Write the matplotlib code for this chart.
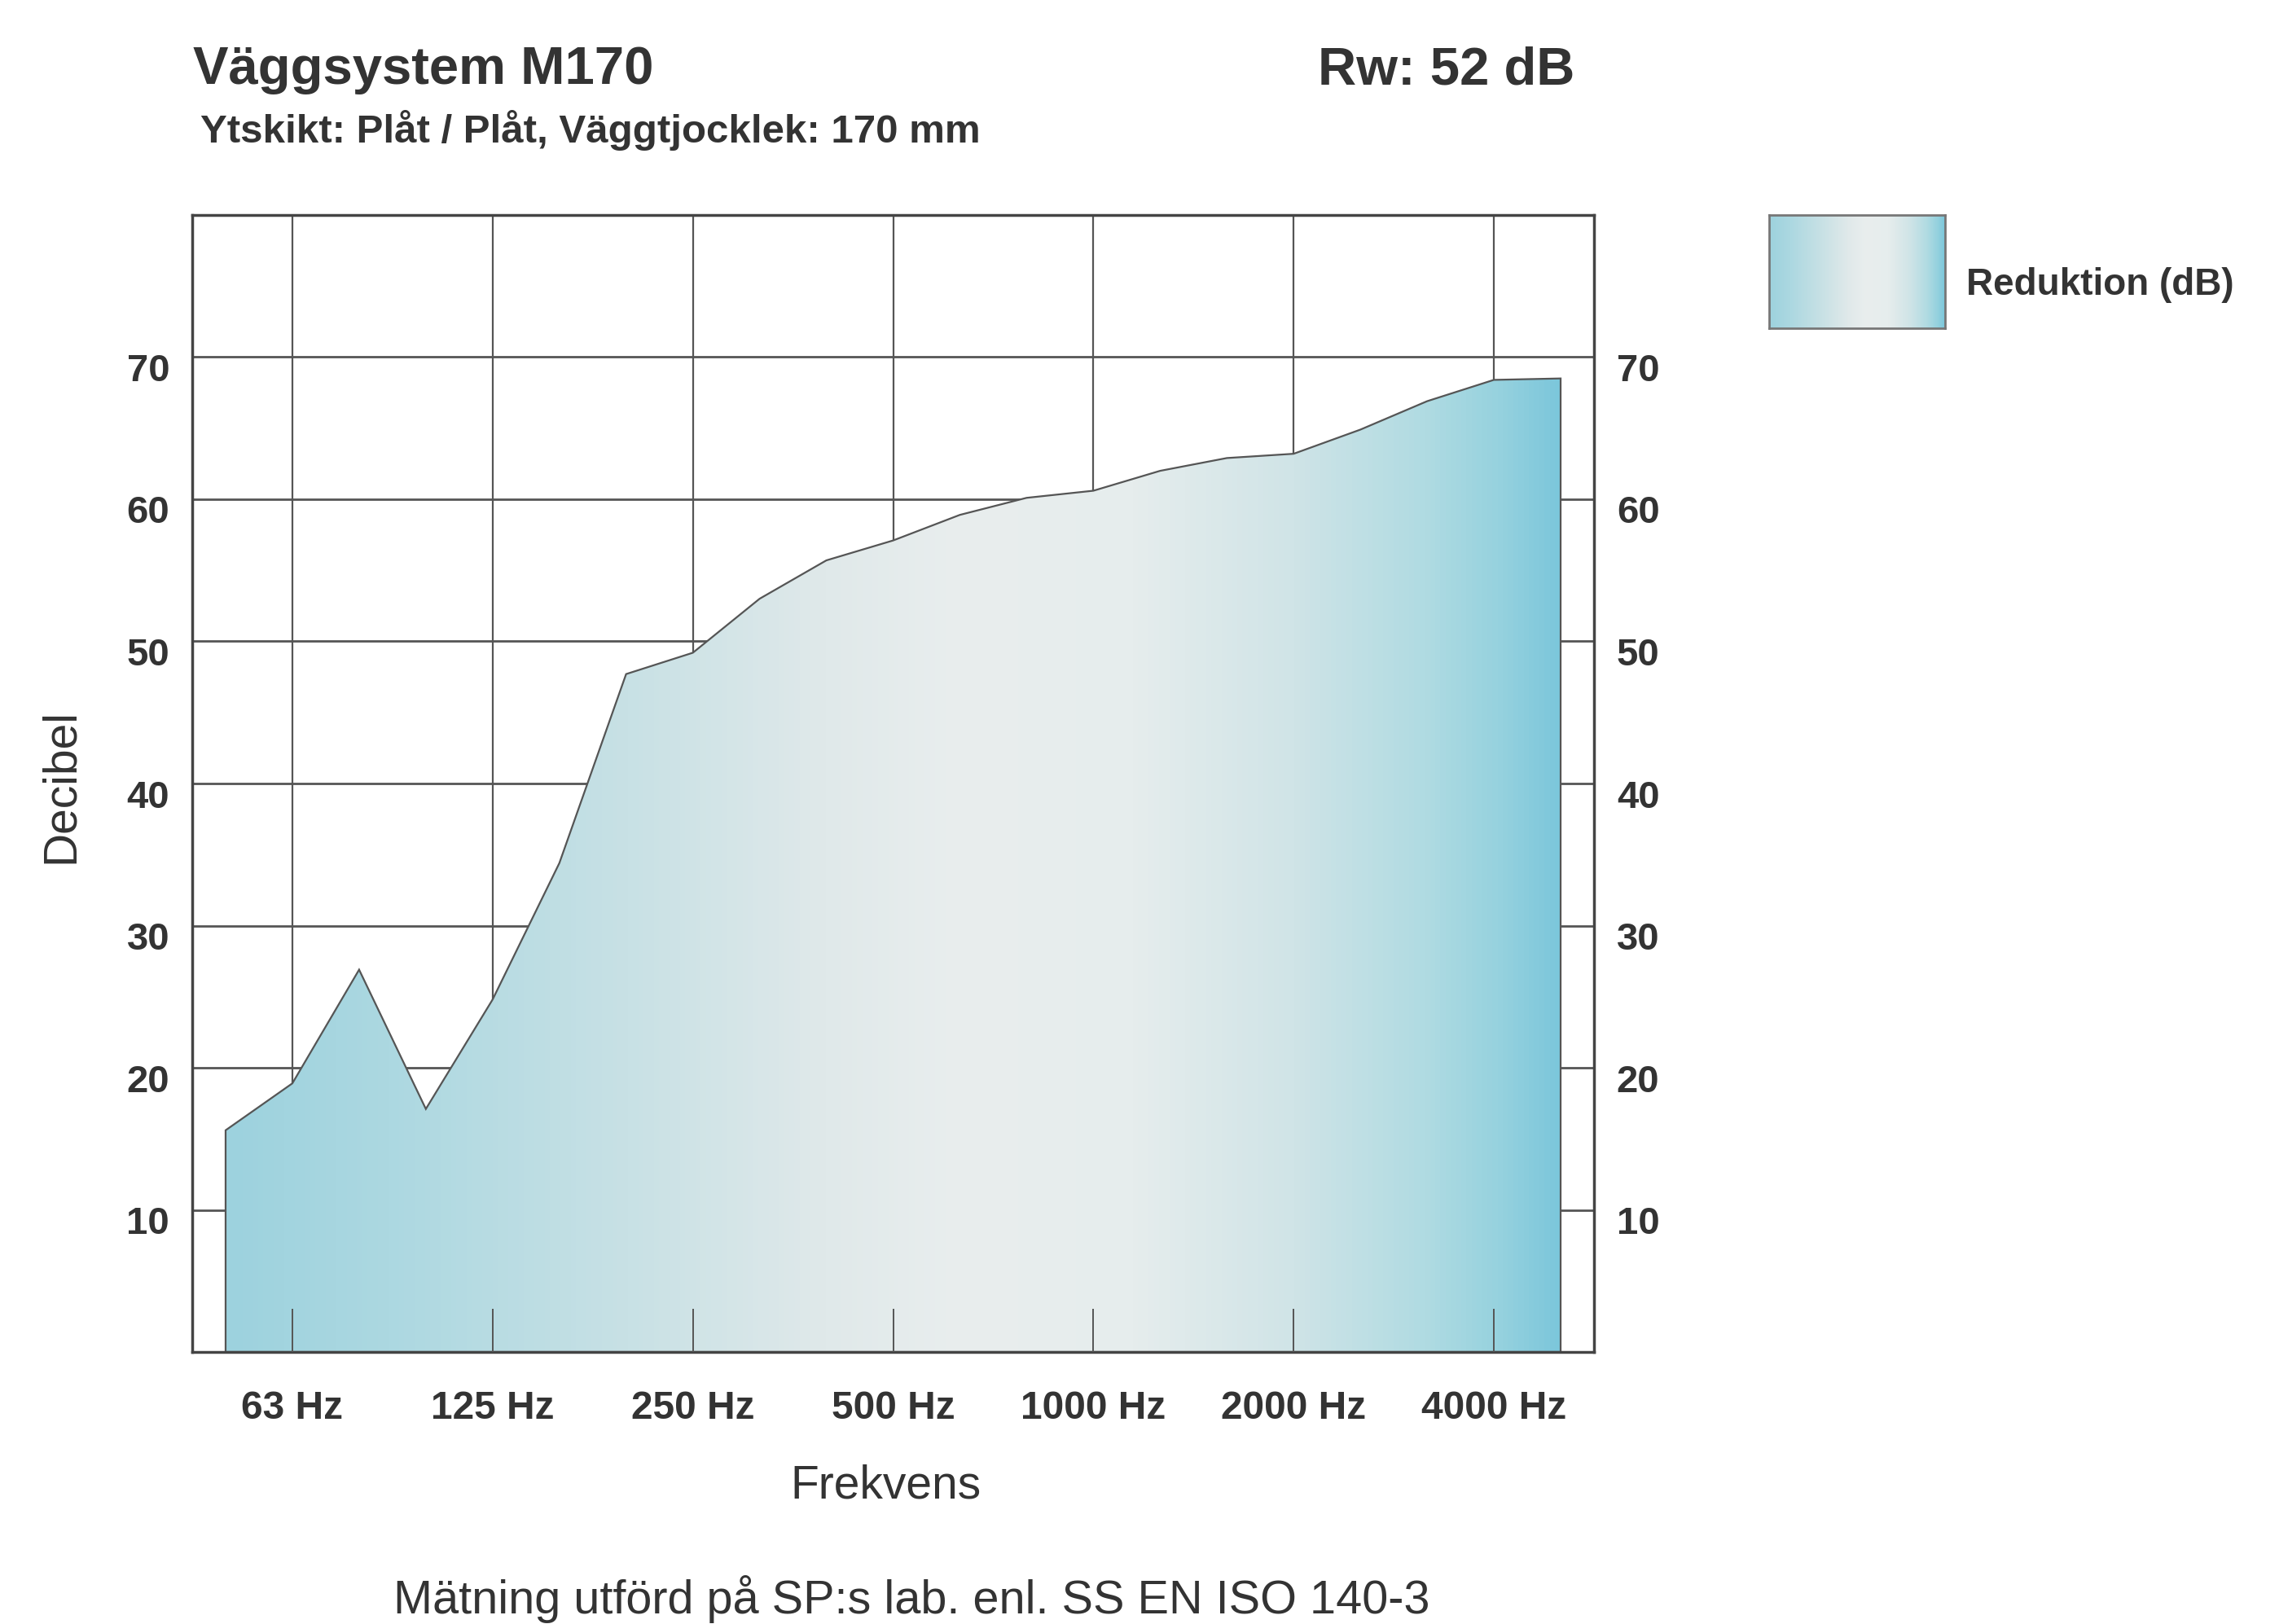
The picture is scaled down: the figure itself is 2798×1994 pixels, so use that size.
import numpy as np
import matplotlib
matplotlib.use("Agg")
import matplotlib.pyplot as plt
from matplotlib.colors import LinearSegmentedColormap
from matplotlib.patches import Polygon
from matplotlib.transforms import ScaledTranslation

plt.rcParams["font.family"] = ["Liberation Sans", "DejaVu Sans"]

# ── Data ──────────────────────────────
bands = [50, 63, 80, 100, 125, 160, 200, 250, 315, 400, 500,
         630, 800, 1000, 1250, 1600, 2000, 2500, 3150, 4000, 5000]
reduction = [15.6, 18.9, 26.9, 17.1, 24.8, 34.4, 47.7, 49.2, 53.0, 55.7, 57.1,
             58.9, 60.1, 60.6, 62.0, 62.9, 63.2, 64.9, 66.9, 68.4, 68.5]
label_bands = [63, 125, 250, 500, 1000, 2000, 4000]
yticks = [10, 20, 30, 40, 50, 60, 70]

title = "Väggsystem M170"
rw_text = "Rw: 52 dB"
subtitle = "Ytskikt: Plåt / Plåt, Väggtjocklek: 170 mm"
legend_label = "Reduktion (dB)"
footer = "Mätning utförd på SP:s lab. enl. SS EN ISO 140-3"

TXT = "#333333"
LINE = "#555555"

grad = LinearSegmentedColormap.from_list("wall", [
    (0.00, "#9dd2de"), (0.12, "#acd8e1"), (0.30, "#c8e1e5"),
    (0.45, "#e0e9ea"), (0.55, "#e9eeee"), (0.68, "#e6eded"),
    (0.80, "#d0e4e7"), (0.90, "#b0dbe2"), (0.96, "#94d1de"),
    (1.00, "#7cc7db")])

W, H = 2798, 1994
fig = plt.figure(figsize=(W / 100, H / 100), dpi=100)

def fx(px):
    return px / W

def fy(py):
    return 1 - py / H

ax = fig.add_axes([fx(236), fy(1660), fx(1957) - fx(236), fy(264) - fy(1660)])

x = np.arange(len(bands))
ax.set_xlim(-0.5, len(bands) - 0.5)
ax.set_ylim(0, 80)

# grid under the fill
tick_pos = [bands.index(b) for b in label_bands]
for v in yticks:
    ax.axhline(v, color=LINE, lw=2.0, zorder=0.5)
for p in tick_pos:
    ax.axvline(p, color=LINE, lw=1.6, zorder=0.5)

# gradient filled area
verts = [(x[0], 0)] + list(zip(x, reduction)) + [(x[-1], 0)]
poly = Polygon(verts, closed=True, facecolor="none", edgecolor=LINE, lw=1.6, zorder=2)
ax.add_patch(poly)
gradient = np.linspace(0, 1, 512).reshape(1, -1)
im = ax.imshow(gradient, cmap=grad, aspect="auto", extent=[x[0], x[-1], 0, 80],
               zorder=1.5, interpolation="bilinear")
im.set_clip_path(poly)

# axes styling
for s in ax.spines.values():
    s.set_color("#444444")
    s.set_linewidth(2.5)
for a in (ax.xaxis, ax.yaxis):
    a.set_zorder(3)

ax.set_xticks(tick_pos)
ax.set_xticklabels([f"{b} Hz" for b in label_bands], fontsize=34.5, fontweight="bold", color=TXT)
ax.tick_params(axis="x", direction="in", length=38, width=1.4, color=LINE, pad=34, top=False)

ax.set_yticks(yticks)
ax.set_yticklabels([str(v) for v in yticks], fontsize=34, fontweight="bold", color=TXT)
ax.tick_params(axis="y", length=0, pad=20, labelleft=True, labelright=True)
shift = ScaledTranslation(0, -0.125, fig.dpi_scale_trans)
for t in ax.yaxis.get_major_ticks():
    t.label1.set_transform(t.label1.get_transform() + shift)
    t.label2.set_transform(t.label2.get_transform() + shift)
    t.label2.set_fontsize(34)
    t.label2.set_fontweight("bold")
    t.label2.set_color(TXT)

# texts
fig.text(fx(237), fy(103), title, fontsize=47, fontweight="bold", color=TXT, va="baseline", ha="left")
fig.text(fx(1933), fy(103), rw_text, fontsize=47, fontweight="bold", color=TXT, va="baseline", ha="right")
fig.text(fx(246), fy(175), subtitle, fontsize=35.5, fontweight="bold", color=TXT, va="baseline", ha="left")
fig.text(fx(75), fy(965), "Decibel", fontsize=41, color=TXT, rotation=90, va="center", ha="center")
fig.text(fx(1087), fy(1824), "Frekvens", fontsize=41, color=TXT, va="center", ha="center")
fig.text(fx(1119), fy(1963), footer, fontsize=41.5, color=TXT, va="center", ha="center")

# legend box with the same gradient
lax = fig.add_axes([fx(2172), fy(403), fx(2388) - fx(2172), fy(264) - fy(403)])
lax.imshow(gradient, cmap=grad, aspect="auto", extent=[0, 1, 0, 1], interpolation="bilinear")
lax.set_xlim(0, 1)
lax.set_ylim(0, 1)
lax.set_xticks([])
lax.set_yticks([])
for s in lax.spines.values():
    s.set_color("#777777")
    s.set_linewidth(2)
fig.text(fx(2414), fy(350), legend_label, fontsize=33, fontweight="bold", color=TXT, va="center", ha="left")

fig.savefig("out.png", dpi=100)
